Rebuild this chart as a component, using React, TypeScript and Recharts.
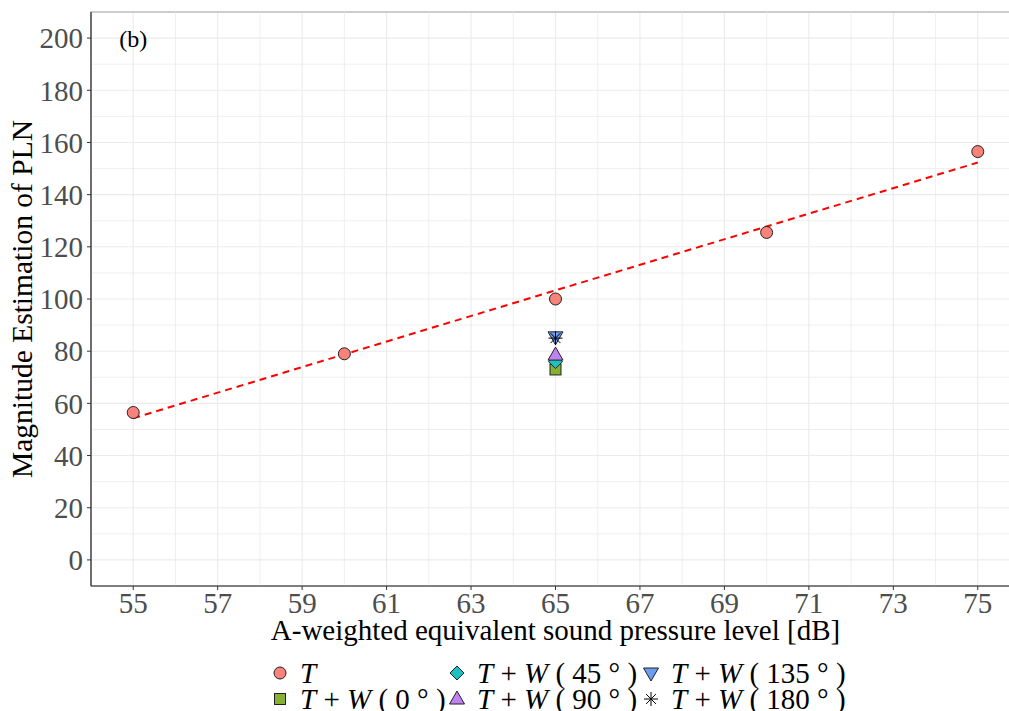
import React from 'react';
import { ScatterChart, Scatter, XAxis, YAxis, CartesianGrid, ReferenceLine, ReferenceArea, ReferenceDot } from 'recharts';

const tPoints = [
  { x: 55, y: 56.5 },
  { x: 60, y: 79 },
  { x: 65, y: 100 },
  { x: 70, y: 125.5 },
  { x: 75, y: 156.5 },
];
const w0 = [{ x: 65, y: 73 }];
const w45 = [{ x: 65, y: 76 }];
const w90 = [{ x: 65, y: 78.5 }];
const w135 = [{ x: 65, y: 85.5 }];
const w180 = [{ x: 65, y: 85 }];
const fitLine = [
  { x: 55, y: 54.3 },
  { x: 75, y: 152.3 },
];
const xTicks = [55, 57, 59, 61, 63, 65, 67, 69, 71, 73, 75];
const xMinor = [54, 56, 58, 60, 62, 64, 66, 68, 70, 72, 74, 76];
const yTicks = [0, 20, 40, 60, 80, 100, 120, 140, 160, 180, 200];
const yMinor = [-10, 10, 30, 50, 70, 90, 110, 130, 150, 170, 190, 210];

const FONT = '"Liberation Serif", "Times New Roman", Times, serif';
const COL = {
  T: '#F8837B',
  w0: '#86B031',
  w45: '#1DC0C0',
  w90: '#BF82F2',
  w135: '#6B9EEE',
  w180: '#000000',
};

const Circle = (p: any) => <circle cx={p.cx} cy={p.cy} r={6} fill={COL.T} stroke="#222" strokeWidth={1} />;
const Square = (p: any) => <rect x={p.cx - 5.5} y={p.cy - 5.5} width={11} height={11} fill={COL.w0} stroke="#222" strokeWidth={1} />;
const Diamond = (p: any) => (
  <polygon points={`${p.cx},${p.cy - 7} ${p.cx + 7},${p.cy} ${p.cx},${p.cy + 7} ${p.cx - 7},${p.cy}`} fill={COL.w45} stroke="#222" strokeWidth={1} />
);
const TriUp = (p: any) => (
  <polygon points={`${p.cx},${p.cy - 8} ${p.cx + 7.5},${p.cy + 5} ${p.cx - 7.5},${p.cy + 5}`} fill={COL.w90} stroke="#222" strokeWidth={1} />
);
const TriDown = (p: any) => (
  <polygon points={`${p.cx},${p.cy + 8} ${p.cx + 7.5},${p.cy - 5} ${p.cx - 7.5},${p.cy - 5}`} fill={COL.w135} stroke="#222" strokeWidth={1} />
);
const Star = (p: any) => {
  const r = 7;
  const d = r * 0.707;
  return (
    <g stroke="#000" strokeWidth={1}>
      <line x1={p.cx - r} y1={p.cy} x2={p.cx + r} y2={p.cy} />
      <line x1={p.cx} y1={p.cy - r} x2={p.cx} y2={p.cy + r} />
      <line x1={p.cx - d} y1={p.cy - d} x2={p.cx + d} y2={p.cy + d} />
      <line x1={p.cx - d} y1={p.cy + d} x2={p.cx + d} y2={p.cy - d} />
    </g>
  );
};
const NoShape = () => <g />;

const legendItems = [
  { key: 'T', shape: Circle, col: 0, row: 0, angle: '' },
  { key: 'w0', shape: Square, col: 0, row: 1, angle: '0' },
  { key: 'w45', shape: Diamond, col: 1, row: 0, angle: '45' },
  { key: 'w90', shape: TriUp, col: 1, row: 1, angle: '90' },
  { key: 'w135', shape: TriDown, col: 2, row: 0, angle: '135' },
  { key: 'w180', shape: Star, col: 2, row: 1, angle: '180' },
];
const colX = [280, 457, 651];
const rowY = [673, 699];

export default function App() {
  return (
    <div style={{ position: 'absolute', left: 0, top: 0, width: 1009, height: 711, overflow: 'hidden', background: '#fff' }}>
      <ScatterChart width={1030} height={711} margin={{ top: 12, right: 10, bottom: 0, left: 0 }}>
        <CartesianGrid stroke="#EBEBEB" strokeWidth={1.1} />
        {xMinor.map((v) => (
          <ReferenceLine key={'xm' + v} x={v} stroke="#EBEBEB" strokeWidth={0.8} ifOverflow="visible" />
        ))}
        {yMinor.map((v) => (
          <ReferenceLine key={'ym' + v} y={v} stroke="#EBEBEB" strokeWidth={0.8} ifOverflow="visible" />
        ))}
        <ReferenceArea x1={54} x2={76} y1={-10} y2={210} fill="none" fillOpacity={0} stroke="#7F7F7F" strokeOpacity={1} strokeWidth={1.1} ifOverflow="visible" />
        <XAxis
          type="number"
          dataKey="x"
          domain={[54, 76]}
          ticks={xTicks}
          interval={0}
          allowDataOverflow
          height={125}
          tickSize={4}
          tickMargin={2}
          axisLine={{ stroke: '#333', strokeWidth: 1.2 }}
          tickLine={{ stroke: '#333' }}
          tick={{ fill: '#4D4D4D', fontSize: 29, fontFamily: FONT }}
          label={(props: any) => {
            const vb = props.viewBox;
            return (
              <text x={vb.x + vb.width / 2} y={vb.y + 44} textAnchor="middle" dominantBaseline="central" fontSize={29} fontFamily={FONT} fill="#000">
                A-weighted equivalent sound pressure level [dB]
              </text>
            );
          }}
        />
        <YAxis
          type="number"
          dataKey="y"
          domain={[-10, 210]}
          ticks={yTicks}
          interval={0}
          allowDataOverflow
          width={91}
          tickSize={4}
          tickMargin={4}
          axisLine={{ stroke: '#333', strokeWidth: 1.2 }}
          tickLine={{ stroke: '#333' }}
          tick={{ fill: '#4D4D4D', fontSize: 29, fontFamily: FONT }}
          label={(props: any) => {
            const vb = props.viewBox;
            const cy = vb.y + vb.height / 2;
            return (
              <text x={22} y={cy} transform={`rotate(-90, 22, ${cy})`} textAnchor="middle" dominantBaseline="central" fontSize={29.5} fontFamily={FONT} fill="#000">
                Magnitude Estimation of PLN
              </text>
            );
          }}
        />
        <ReferenceDot
          x={55}
          y={200}
          r={0}
          fill="none"
          stroke="none"
          label={(props: any) => {
            const vb = props.viewBox;
            const cx = vb.x + (vb.width || 0) / 2;
            const cy = vb.y + (vb.height || 0) / 2;
            return (
              <text x={cx} y={cy + 1} textAnchor="middle" dominantBaseline="central" fontSize={24} fontFamily={FONT} fill="#000">
                (b)
              </text>
            );
          }}
        />
        <Scatter data={fitLine} shape={NoShape} line={{ stroke: '#FF0000', strokeWidth: 2, strokeDasharray: '7 5' }} lineType="joint" isAnimationActive={false} />
        <Scatter data={tPoints} shape={Circle} isAnimationActive={false} />
        <Scatter data={w0} shape={Square} isAnimationActive={false} />
        <Scatter data={w45} shape={Diamond} isAnimationActive={false} />
        <Scatter data={w90} shape={TriUp} isAnimationActive={false} />
        <Scatter data={w135} shape={TriDown} isAnimationActive={false} />
        <Scatter data={w180} shape={Star} isAnimationActive={false} />
      </ScatterChart>
      <svg width={1009} height={711} style={{ position: 'absolute', left: 0, top: 0, pointerEvents: 'none' }}>
        {legendItems.map((it) => {
          const Sh = it.shape;
          const cx = colX[it.col];
          const cy = rowY[it.row];
          return (
            <g key={it.key}>
              <Sh cx={cx} cy={cy} />
              <text x={cx + 20} y={cy} dominantBaseline="central" fontSize={29} fontFamily={FONT} fill="#000" style={{ whiteSpace: 'pre' }}>
                <tspan fontStyle="italic">T</tspan>
                {it.angle ? (
                  <>
                    <tspan>{' + '}</tspan>
                    <tspan fontStyle="italic">W</tspan>
                    <tspan>{` ( ${it.angle} ° )`}</tspan>
                  </>
                ) : null}
              </text>
            </g>
          );
        })}
      </svg>
    </div>
  );
}
